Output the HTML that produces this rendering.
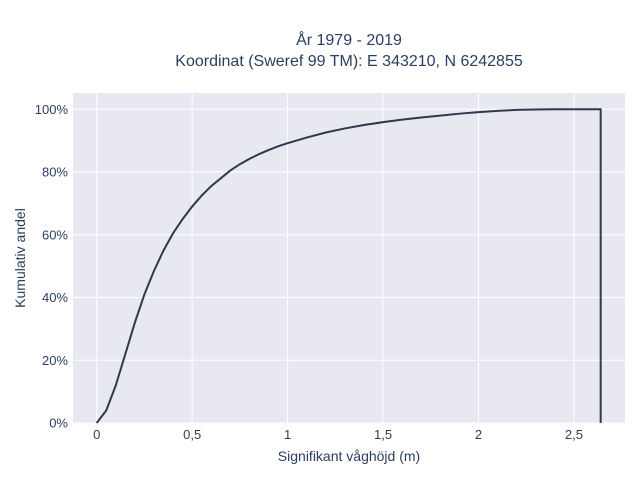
<!DOCTYPE html>
<html><head><meta charset="utf-8"><style>
body{margin:0;background:#fff;font-family:"Liberation Sans",sans-serif;}
svg text{font-family:"Liberation Sans",sans-serif;fill:#2a3f5f;}
</style></head><body>
<svg width="640" height="480" xmlns="http://www.w3.org/2000/svg">
<rect width="640" height="480" fill="#fff"/>
<rect x="73" y="93" width="552" height="330" fill="#e5e5f0" opacity="0.9"/>
<g id="grid"></g>
<g id="series"></g>
<g id="ticks"></g>
<text x="349" y="45" text-anchor="middle" font-size="16">År 1979 - 2019</text>
<text x="349" y="66" text-anchor="middle" font-size="16">Koordinat (Sweref 99 TM): E 343210, N 6242855</text>
<text x="349" y="461" text-anchor="middle" font-size="14">Signifikant våghöjd (m)</text>
<text x="25" y="258" text-anchor="middle" font-size="14" transform="rotate(-90 25 258)">Kumulativ andel</text>
</svg>
<script>
const xValues=[0,0.05,0.1,0.15,0.2,0.25,0.3,0.35,0.4,0.45,0.5,0.55,0.6,0.65,0.7,0.75,0.8,0.85,0.9,0.95,1.0,1.1,1.2,1.3,1.4,1.5,1.6,1.7,1.8,1.9,2.0,2.1,2.2,2.3,2.4,2.64,2.64];
const yValues=[0,4,12,22,32,41,48.5,55,60.5,65,69,72.5,75.5,78,80.5,82.5,84.2,85.7,87,88.2,89.2,91,92.6,93.9,95,95.9,96.7,97.4,98,98.6,99.1,99.5,99.8,99.95,100,100,0];
const xTicks=[0,0.5,1,1.5,2,2.5];
const xTickLabels=["0","0,5","1","1,5","2","2,5"];
const yTicks=[0,20,40,60,80,100];
const yTickLabels=["0%","20%","40%","60%","80%","100%"];
const NS="http://www.w3.org/2000/svg";
function sx(v){return 96.7+v*190.9;}
function sy(v){return 423-v*3.137;}
const grid=document.getElementById('grid'),ticks=document.getElementById('ticks'),series=document.getElementById('series');
xTicks.forEach((t,i)=>{
 const l=document.createElementNS(NS,'line');
 l.setAttribute('x1',sx(t));l.setAttribute('x2',sx(t));l.setAttribute('y1',93);l.setAttribute('y2',423);
 l.setAttribute('stroke','#fff');l.setAttribute('stroke-width','1');
 
 
 grid.appendChild(l);
 const tx=document.createElementNS(NS,'text');
 tx.setAttribute('x',sx(t));tx.setAttribute('y',439);tx.setAttribute('text-anchor','middle');tx.setAttribute('font-size','13');
 tx.textContent=xTickLabels[i];
 
 
 ticks.appendChild(tx);
});
yTicks.forEach((t,i)=>{
 const l=document.createElementNS(NS,'line');
 l.setAttribute('x1',73);l.setAttribute('x2',625);l.setAttribute('y1',sy(t));l.setAttribute('y2',sy(t));
 l.setAttribute('stroke','#fff');l.setAttribute('stroke-width','1');
 
 
 grid.appendChild(l);
 const tx=document.createElementNS(NS,'text');
 tx.setAttribute('x',68);tx.setAttribute('y',sy(t)+4.5);tx.setAttribute('text-anchor','end');tx.setAttribute('font-size','13');
 tx.textContent=yTickLabels[i];
 
 
 ticks.appendChild(tx);
});
const p=document.createElementNS(NS,'polyline');
p.setAttribute('points',xValues.map((x,i)=>sx(x)+','+sy(yValues[i])).join(' '));
p.setAttribute('fill','none');p.setAttribute('stroke','#2d3a4d');p.setAttribute('stroke-width','2');


series.appendChild(p);
</script>
</body></html>
